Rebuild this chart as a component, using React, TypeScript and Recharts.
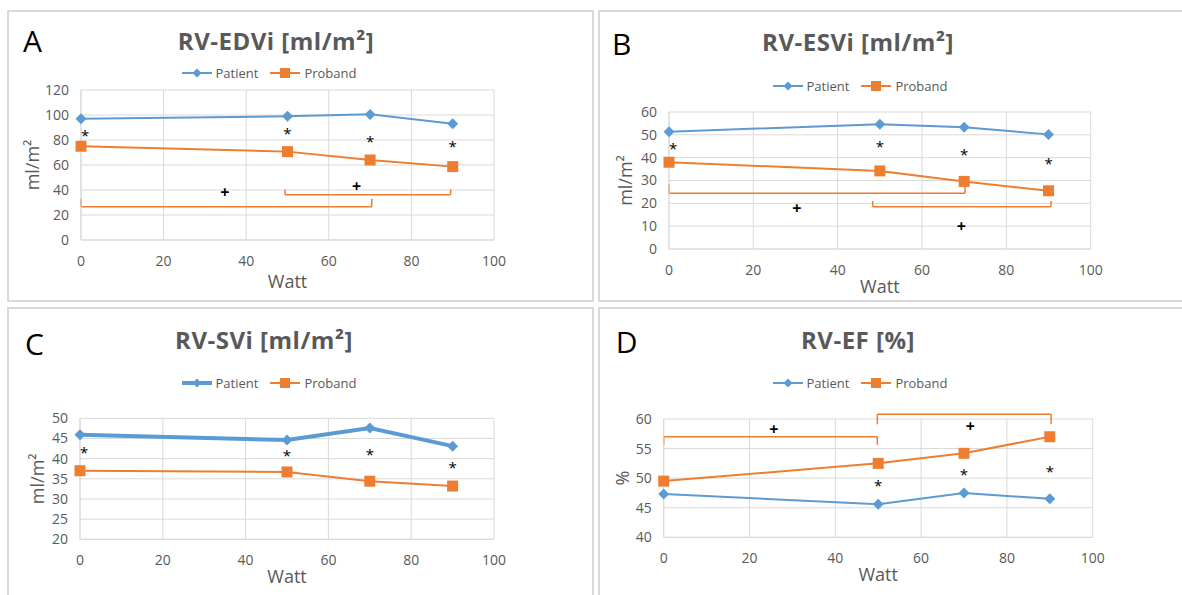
import React from 'react';
import {
  ComposedChart,
  Line,
  XAxis,
  YAxis,
  CartesianGrid,
  ReferenceLine,
  ReferenceDot,
  Legend
} from 'recharts';

const BLUE = '#5b9bd5';
const ORANGE = '#ed7d31';
const GREY = '#595959';
const GRID = '#d9d9d9';
const FONT = '"Open Sans", sans-serif';

// x values (Watt) shared by every panel
const watts = [0, 50, 70, 90];
const wattTicks = [0, 20, 40, 60, 80, 100];

// A: RV-EDVi
const edviPatient = [97, 99, 100.5, 93];
const edviProband = [75, 70.7, 64, 58.7];
const edviTicks = [0, 20, 40, 60, 80, 100, 120];
const edviStars = [[1, 85.8], [50, 87.5], [70, 81], [90, 76.5]];
const edviPlus = [[34.8, 38.2], [66.7, 43.2]];
const edviBrackets = [
  { from: 0, to: 70.4, bar: 26.7, tip: 33 },
  { from: 49.4, to: 89.5, bar: 36.3, tip: 40.5 }
];

// B: RV-ESVi
const esviPatient = [51.4, 54.6, 53.3, 50.2];
const esviProband = [38, 34.2, 29.6, 25.5];
const esviTicks = [0, 10, 20, 30, 40, 50, 60];
const esviStars = [[1, 45.1], [50, 45.8], [70, 42.5], [90, 38.7]];
const esviPlus = [[30.3, 18.1], [69.3, 10.2]];
const esviBrackets = [
  { from: 0, to: 70.2, bar: 24.4, tip: 28.3 },
  { from: 48.3, to: 90.6, bar: 18.5, tip: 21 }
];

// C: RV-SVi
const sviPatient = [45.9, 44.6, 47.6, 43.1];
const sviProband = [37, 36.7, 34.4, 33.2];
const sviTicks = [20, 25, 30, 35, 40, 45, 50];
const sviStars = [[1, 42.1], [50, 41.3], [70, 41.7], [90, 38.5]];

// D: RV-EF
const efPatient = [47.3, 45.6, 47.5, 46.5];
const efProband = [49.5, 52.5, 54.2, 57.0];
const efTicks = [40, 45, 50, 55, 60];
const efStars = [[50, 49.2], [70, 51.1], [90, 51.5]];
const efPlus = [[25.7, 58.3], [71.5, 58.8]];
const efBrackets = [
  { from: 0, to: 49.8, bar: 57.0, tip: 55.6 },
  { from: 49.8, to: 90.3, bar: 60.8, tip: 59.1 }
];

const W = 582;
const H = 286;

type Bracket = { from: number; to: number; bar: number; tip: number };

type Panel = {
  letter: string;
  title: string;
  yLabel: string;
  patient: number[];
  proband: number[];
  ticks: number[];
  stars: number[][];
  plus: number[][];
  brackets: Bracket[];
  box: { left: number; top: number; width: number; height: number };
  plot: { left: number; top: number; right: number; bottom: number };
  titleX: number;
  titleY: number;
  letterX: number;
  letterY: number;
  yLabelX: number;
  xLabelGap: number;
  legendY: number;
  patientWidth: number;
};

const panels: Panel[] = [
  {
    letter: 'A', title: 'RV-EDVi [ml/m²]', yLabel: 'ml/m²',
    patient: edviPatient, proband: edviProband, ticks: edviTicks,
    stars: edviStars, plus: edviPlus, brackets: edviBrackets,
    box: { left: 7, top: 10, width: 587, height: 292 },
    plot: { left: 72, top: 78, right: 485, bottom: 228 },
    titleX: 267, titleY: 38, letterX: 14, letterY: 40, yLabelX: 23, xLabelGap: 47.5,
    legendY: 61, patientWidth: 2
  },
  {
    letter: 'B', title: 'RV-ESVi [ml/m²]', yLabel: 'ml/m²',
    patient: esviPatient, proband: esviProband, ticks: esviTicks,
    stars: esviStars, plus: esviPlus, brackets: esviBrackets,
    box: { left: 598, top: 10, width: 600, height: 292 },
    plot: { left: 69, top: 100, right: 490.7, bottom: 237 },
    titleX: 258, titleY: 38.5, letterX: 12, letterY: 43, yLabelX: 25, xLabelGap: 44,
    legendY: 74, patientWidth: 2
  },
  {
    letter: 'C', title: 'RV-SVi [ml/m²]', yLabel: 'ml/m²',
    patient: sviPatient, proband: sviProband, ticks: sviTicks,
    stars: sviStars, plus: [], brackets: [],
    box: { left: 7, top: 307, width: 587, height: 300 },
    plot: { left: 71, top: 109.3, right: 485, bottom: 230.3 },
    titleX: 255, titleY: 39.5, letterX: 16, letterY: 46, yLabelX: 28, xLabelGap: 44,
    legendY: 74, patientWidth: 4
  },
  {
    letter: 'D', title: 'RV-EF [%]', yLabel: '%',
    patient: efPatient, proband: efProband, ticks: efTicks,
    stars: efStars, plus: efPlus, brackets: efBrackets,
    box: { left: 598, top: 307, width: 600, height: 300 },
    plot: { left: 63.7, top: 110, right: 492.7, bottom: 228.3 },
    titleX: 258, titleY: 39.5, letterX: 15.7, letterY: 44, yLabelX: 21.7, xLabelGap: 44,
    legendY: 74, patientWidth: 2
  }
];

const toPoints = (ys: number[]) => watts.map((w, i) => ({ w, v: ys[i] }));

const diamond = (props: any) => {
  const { cx, cy, index } = props;
  if (cx == null || cy == null) return <g key={index} />;
  return (
    <path
      key={index}
      d={`M${cx},${cy - 5.5}L${cx + 5.5},${cy}L${cx},${cy + 5.5}L${cx - 5.5},${cy}Z`}
      fill={BLUE}
    />
  );
};

const square = (props: any) => {
  const { cx, cy, index } = props;
  if (cx == null || cy == null) return <g key={index} />;
  return <rect key={index} x={cx - 5.5} y={cy - 5.5} width={11} height={11} fill={ORANGE} />;
};

function LegendBox({ patientWidth }: { patientWidth: number }) {
  const items = [
    { name: 'Patient', color: BLUE, width: patientWidth, kind: 'diamond' },
    { name: 'Proband', color: ORANGE, width: 2, kind: 'square' }
  ];
  return (
    <div
      style={{
        display: 'flex',
        justifyContent: 'center',
        alignItems: 'center',
        gap: 12,
        height: 20,
        fontFamily: FONT,
        fontSize: 13,
        color: GREY
      }}
    >
      {items.map(it => (
        <div key={it.name} style={{ display: 'flex', alignItems: 'center' }}>
          <svg width={30} height={14}>
            <line x1={0} y1={7} x2={30} y2={7} stroke={it.color} strokeWidth={it.width} />
            {it.kind === 'diamond' ? (
              <path d="M15,2.5L19.5,7L15,11.5L10.5,7Z" fill={it.color} />
            ) : (
              <rect x={10} y={2} width={10} height={10} fill={it.color} />
            )}
          </svg>
          <span style={{ marginLeft: 4 }}>{it.name}</span>
        </div>
      ))}
    </div>
  );
}

function PanelChart({ p }: { p: Panel }) {
  const [lo, hi] = [p.ticks[0], p.ticks[p.ticks.length - 1]];
  const midY = (p.plot.top + p.plot.bottom) / 2;
  const midX = (p.plot.left + p.plot.right) / 2;
  return (
    <div
      style={{
        position: 'absolute',
        left: p.box.left,
        top: p.box.top,
        width: p.box.width,
        height: p.box.height,
        border: `2px solid ${GRID}`,
        boxSizing: 'border-box',
        background: '#fff'
      }}
    >
      <ComposedChart
        width={W}
        height={H}
        margin={{ top: p.plot.top, left: 0, right: W - p.plot.right, bottom: H - p.plot.bottom - 45 }}
      >
        <CartesianGrid stroke={GRID} strokeWidth={1} />
        <XAxis
          type="number"
          dataKey="w"
          domain={[0, 100]}
          ticks={wattTicks}
          interval={0}
          height={45}
          tickLine={false}
          tickMargin={10}
          axisLine={{ stroke: GRID }}
          tick={{ fill: GREY, fontSize: 14, fontFamily: FONT }}
          label={{
            content: () => (
              <text
                x={midX}
                y={p.plot.bottom + p.xLabelGap}
                textAnchor="middle"
                fill={GREY}
                fontSize={18}
                fontFamily={FONT}
              >
                Watt
              </text>
            )
          }}
        />
        <YAxis
          type="number"
          domain={[lo, hi]}
          ticks={p.ticks}
          interval={0}
          width={p.plot.left}
          tickLine={false}
          tickMargin={6}
          axisLine={{ stroke: GRID }}
          tick={{ fill: GREY, fontSize: 14, fontFamily: FONT }}
          label={{
            content: () => (
              <text
                x={p.yLabelX}
                y={midY}
                transform={`rotate(-90 ${p.yLabelX} ${midY})`}
                textAnchor="middle"
                dominantBaseline="central"
                fill={GREY}
                fontSize={18}
                fontFamily={FONT}
              >
                {p.yLabel}
              </text>
            )
          }}
        />
        <Legend
          layout="horizontal"
          verticalAlign="middle"
          align="center"
          wrapperStyle={{ top: p.legendY - 10, left: 0, width: 520 }}
          content={() => <LegendBox patientWidth={p.patientWidth} />}
        />
        {p.brackets.map((b, i) => [
          <ReferenceLine
            key={`bl${i}`}
            segment={[{ x: b.from, y: b.tip }, { x: b.from, y: b.bar }]}
            stroke={ORANGE}
            strokeWidth={1.5}
            ifOverflow="visible"
          />,
          <ReferenceLine
            key={`bm${i}`}
            segment={[{ x: b.from, y: b.bar }, { x: b.to, y: b.bar }]}
            stroke={ORANGE}
            strokeWidth={1.5}
            ifOverflow="visible"
          />,
          <ReferenceLine
            key={`br${i}`}
            segment={[{ x: b.to, y: b.bar }, { x: b.to, y: b.tip }]}
            stroke={ORANGE}
            strokeWidth={1.5}
            ifOverflow="visible"
          />
        ])}
        <Line
          data={toPoints(p.patient)}
          dataKey="v"
          name="Patient"
          stroke={BLUE}
          strokeWidth={p.patientWidth}
          dot={diamond}
          activeDot={false}
          isAnimationActive={false}
        />
        <Line
          data={toPoints(p.proband)}
          dataKey="v"
          name="Proband"
          stroke={ORANGE}
          strokeWidth={2}
          dot={square}
          activeDot={false}
          isAnimationActive={false}
        />
        {p.stars.map((s, i) => (
          <ReferenceDot
            key={`s${i}`}
            x={s[0]}
            y={s[1]}
            r={0}
            ifOverflow="visible"
            shape={(d: any) => (
              <text x={d.cx} y={d.cy + 8} textAnchor="middle" fontSize={15} fontFamily={FONT} fill="#000">
                *
              </text>
            )}
          />
        ))}
        {p.plus.map((s, i) => (
          <ReferenceDot
            key={`p${i}`}
            x={s[0]}
            y={s[1]}
            r={0}
            ifOverflow="visible"
            shape={(d: any) => (
              <text
                x={d.cx}
                y={d.cy + 6}
                textAnchor="middle"
                fontSize={16}
                fontWeight="bold"
                fontFamily={FONT}
                fill="#000"
              >
                +
              </text>
            )}
          />
        ))}
      </ComposedChart>
      <svg
        width={W}
        height={60}
        style={{ position: 'absolute', left: 0, top: 0, pointerEvents: 'none' }}
      >
        <text x={p.letterX} y={p.letterY} fontSize={30} fontFamily={FONT} fill="#000">
          {p.letter}
        </text>
        <text
          x={p.titleX}
          y={p.titleY}
          textAnchor="middle"
          fontSize={24}
          fontWeight="bold"
          letterSpacing={0.5}
          fontFamily={FONT}
          fill={GREY}
        >
          {p.title}
        </text>
      </svg>
    </div>
  );
}

export default function App() {
  return (
    <div
      style={{
        position: 'absolute',
        left: 0,
        top: 0,
        width: 1182,
        height: 595,
        overflow: 'hidden',
        background: '#fff'
      }}
    >
      {panels.map(p => (
        <PanelChart key={p.letter} p={p} />
      ))}
    </div>
  );
}
